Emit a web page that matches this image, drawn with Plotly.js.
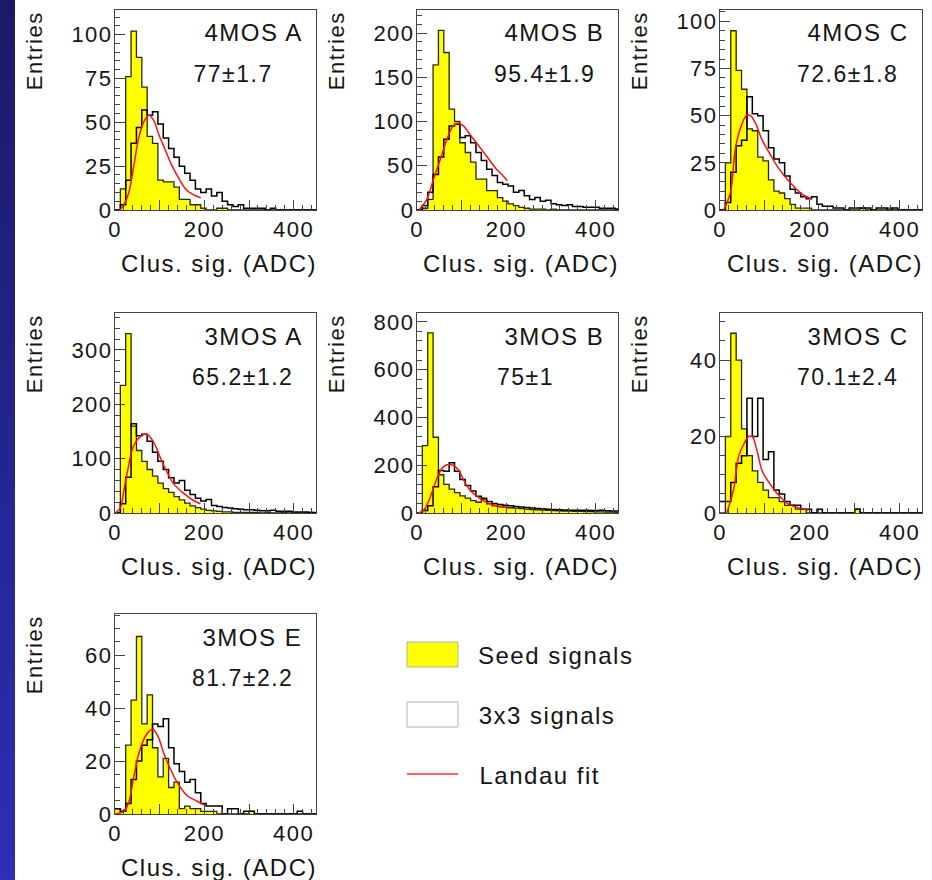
<!DOCTYPE html>
<html><head><meta charset="utf-8">
<script src="https://cdn.plot.ly/plotly-3.0.1.min.js"></script>
<style>
html,body{margin:0;padding:0;background:#fff;overflow:hidden;}
#strip{position:absolute;left:0;top:0;width:15px;height:880px;background:linear-gradient(#1a1a68,#2e2eb6);}
#chart{position:absolute;left:0;top:0;width:932px;height:880px;}
#chart text{letter-spacing:1.5px;}
</style></head>
<body><div id="strip"></div><div id="chart"></div>
<script>
// ---- data ----
const binStarts = [0,12,24,36,48,60,72,84,96,108,120,132,144,156,168,180,192,204,216,228,240,252,264,276,288,300,312,324,336,348,360,372,384,396,408,420,432,444];
const BIN_WIDTH = 12;

const panelNames = ["4MOS A","4MOS B","4MOS C","3MOS A","3MOS B","3MOS C","3MOS E"];
const mpvTexts   = ["77\u00b11.7","95.4\u00b11.9","72.6\u00b11.8","65.2\u00b11.2","75\u00b11","70.1\u00b12.4","81.7\u00b12.2"];

const seed_4MOS_A = [0,12,76,102,87,70,42,38,17,16,16,13,6,6,3,3,1,0,0,1,1,0,0,0,0,0,0,0,0,0,0,0,0,0,0,0,0,0];
const clus_4MOS_A = [0,3,17,38,47,57,54,56,49,41,35,30,25,21,17,12,10,12,8,10,5,3,2,3,1,1,1,1,0,1,0,0,0,0,0,0,0,0];
const fitX_4MOS_A = [10,20,31,42,53,64,76,87,98,113,128,143,158,173,192];
const fitY_4MOS_A = [0,3,10,25,41,50,54,51,43,34,25,18,12,9,7];

const seed_4MOS_B = [0,2,12,164,203,178,114,100,76,65,54,35,35,22,22,14,10,7,5,3,2,1,1,1,0,1,0,0,0,0,0,0,0,0,0,0,0,0];
const clus_4MOS_B = [0,5,20,40,60,80,95,97,82,84,76,65,56,46,39,31,29,27,20,22,16,12,14,10,11,7,6,5,6,4,4,3,3,3,2,2,2,1];
const fitX_4MOS_B = [4,22,37,52,67,81,93,104,119,133,148,163,178,190,202];
const fitY_4MOS_B = [0,12,35,57,80,95,98,95,85,76,66,56,46,40,33];

const seed_4MOS_C = [0,25,95,74,64,43,42,28,26,16,10,9,6,3,1,1,1,0,0,0,0,0,0,0,0,0,1,0,0,0,0,1,0,0,0,0,0,0];
const clus_4MOS_C = [0,4,20,34,37,60,51,50,42,33,27,25,18,11,9,7,6,7,3,2,2,1,1,0,1,1,1,1,0,1,1,0,1,0,0,0,0,0];
const fitX_4MOS_C = [8,23,34,45,59,68,79,94,113,128,158,185,204];
const fitY_4MOS_C = [0,9,32,43,50,50,46,37,29,23,14,8,6];

const seed_3MOS_A = [0,235,330,160,115,95,80,68,55,45,38,30,24,18,13,10,7,5,4,3,2,2,1,1,1,1,1,0,1,0,0,1,0,0,0,0,1,0];
const clus_3MOS_A = [0,17,66,164,142,145,132,112,95,80,65,55,60,42,34,27,22,25,14,12,10,9,8,7,6,6,5,4,4,5,3,3,3,2,2,2,1,1];
const fitX_3MOS_A = [0,11,20,30,41,56,71,86,101,116,131,154,176,191];
const fitY_3MOS_A = [0,8,42,85,122,140,145,131,103,76,54,36,23,17];

const seed_3MOS_B = [0,282,754,317,160,120,100,85,72,62,52,45,58,38,30,26,24,22,20,18,16,14,13,12,11,10,9,8,8,7,7,6,6,5,5,4,4,3];
const clus_3MOS_B = [0,10,30,110,178,175,210,175,140,115,92,70,62,48,40,36,32,30,27,25,23,21,19,18,16,15,14,13,12,12,11,11,10,10,12,9,8,8];
const fitX_3MOS_B = [3,15,26,37,48,59,70,81,93,104,119,142,164,187,205];
const fitY_3MOS_B = [0,11,50,105,160,193,203,200,180,140,95,59,38,28,21];

const seed_3MOS_C = [0,20,47,40,22,15,11,8,6,4,4,3,2,2,1,1,0,0,0,0,0,0,0,0,0,1,0,0,0,0,0,0,0,0,0,0,0,0];
const clus_3MOS_C = [3,3,8,13,15,30,20,30,14,16,6,5,3,2,2,1,1,0,1,0,0,0,0,0,0,1,0,0,0,0,0,0,0,0,0,0,0,0];
const fitX_3MOS_C = [15,30,42,53,64,72,83,94,109,128,151,174,196];
const fitY_3MOS_C = [0,6,15,18,20,20,16,11,8,5,2.4,1.4,0.7];

const seed_3MOS_E = [2,1,26,43,67,34,45,25,14,21,10,12,2,3,2,2,1,1,1,0,0,0,0,0,0,1,0,0,0,0,0,0,0,0,0,0,0,0];
const clus_3MOS_E = [2,1,4,13,20,26,28,34,33,36,25,19,16,12,13,8,4,3,3,3,0,2,2,0,1,1,0,0,0,0,0,0,0,0,1,0,0,0];
const fitX_3MOS_E = [0,19,30,41,52,64,75,85,97,109,124,139,161,184,199];
const fitY_3MOS_E = [0,1,4,13,22,28,31,32,29,23,17,12,7,4.8,3.5];

const legendLabels = ["Seed signals","3x3 signals","Landau fit"];

// ---- layout geometry (pixels) ----
const W = 932, H = 880;
const frames = [
  {l:115,t:10,r:316,b:210},{l:417,t:10,r:618,b:210},{l:720,t:10,r:922,b:210},
  {l:115,t:313,r:316,b:513},{l:417,t:313,r:618,b:513},{l:720,t:313,r:922,b:513},
  {l:115,t:614,r:316,b:814}
];
const yMax   = [114,226,106,368,837,52.3,75.5];
const yDtick = [25,50,25,100,200,20,20];
const yMinor = [5,10,5,20,40,5,5];

const seeds = [seed_4MOS_A,seed_4MOS_B,seed_4MOS_C,seed_3MOS_A,seed_3MOS_B,seed_3MOS_C,seed_3MOS_E];
const clus  = [clus_4MOS_A,clus_4MOS_B,clus_4MOS_C,clus_3MOS_A,clus_3MOS_B,clus_3MOS_C,clus_3MOS_E];
const fitXs = [fitX_4MOS_A,fitX_4MOS_B,fitX_4MOS_C,fitX_3MOS_A,fitX_3MOS_B,fitX_3MOS_C,fitX_3MOS_E];
const fitYs = [fitY_4MOS_A,fitY_4MOS_B,fitY_4MOS_C,fitY_3MOS_A,fitY_3MOS_B,fitY_3MOS_C,fitY_3MOS_E];

const FONT = "Liberation Sans, Arial, Helvetica, sans-serif";
const TXT = '#151515';
const edges = binStarts.concat([binStarts[binStarts.length-1] + BIN_WIDTH]);
const stepY = v => v.concat([v[v.length-1]]);

const traces = [];
const layout = {
  width: W, height: H, margin:{l:0,r:0,t:0,b:0},
  paper_bgcolor:'rgba(0,0,0,0)', plot_bgcolor:'#ffffff',
  showlegend:false, hovermode:false,
  annotations:[], shapes:[]
};

frames.forEach((f,i) => {
  const k = i+1;
  const xa = 'x'+(k===1?'':k), ya = 'y'+(k===1?'':k);
  traces.push({x:edges, y:stepY(seeds[i]), xaxis:xa, yaxis:ya, type:'scatter', mode:'lines',
    line:{shape:'hv', color:'#2a2a00', width:1.3}, fill:'tozeroy', fillcolor:'#ffff00'});
  traces.push({x:edges, y:stepY(clus[i]), xaxis:xa, yaxis:ya, type:'scatter', mode:'lines',
    line:{shape:'hv', color:'#000000', width:1.5}});
  traces.push({x:fitXs[i], y:fitYs[i], xaxis:xa, yaxis:ya, type:'scatter', mode:'lines',
    line:{shape:'spline', smoothing:1, color:'#ff1010', width:1.5}});

  const common = {showline:true, mirror:true, linecolor:'#444', linewidth:1, showgrid:false, zeroline:false,
    ticks:'inside', tickcolor:'#444', tickwidth:1, tickfont:{family:FONT, size:22, color:TXT}, fixedrange:true};
  layout['xaxis'+(k===1?'':k)] = Object.assign({}, common, {
    domain:[f.l/W, f.r/W], anchor:ya, range:[0,450],
    tickmode:'array', tickvals:[0,100,200,300,400], ticktext:['0','','200','','400'], ticklen:10,
    minor:{dtick:20, tick0:0, ticks:'inside', ticklen:5, tickcolor:'#444', showgrid:false}
  });
  layout['yaxis'+(k===1?'':k)] = Object.assign({}, common, {
    domain:[1-f.b/H, 1-f.t/H], anchor:xa, range:[0,yMax[i]],
    tickmode:'linear', tick0:0, dtick:yDtick[i], ticklen:10, ticklabelstandoff:-3,
    minor:{dtick:yMinor[i], tick0:0, ticks:'inside', ticklen:5, tickcolor:'#444', showgrid:false}
  });

  const A = layout.annotations;
  A.push({xref:'paper', yref:'paper', x:(f.l-81)/W, y:1-(f.t+5)/H, text:'Entries', textangle:-90,
    xanchor:'center', yanchor:'top', showarrow:false, font:{family:FONT, size:22, color:TXT}});
  A.push({xref:'paper', yref:'paper', x:(f.r-9)/W, y:1-(f.b+53)/H, text:'Clus. sig. (ADC)',
    xanchor:'right', yanchor:'middle', showarrow:false, font:{family:FONT, size:24, color:TXT}});
  A.push({xref:'paper', yref:'paper', x:(f.r-16)/W, y:1-(f.t+23)/H, text:panelNames[i],
    xanchor:'right', yanchor:'middle', showarrow:false, font:{family:FONT, size:24, color:TXT}});
  A.push({xref:'paper', yref:'paper', x:(f.l+81)/W, y:1-(f.t+64)/H, text:mpvTexts[i],
    xanchor:'left', yanchor:'middle', showarrow:false, font:{family:FONT, size:23, color:TXT}});
});

// ---- legend (drawn) ----
const S = layout.shapes;
S.push({type:'rect', xref:'paper', yref:'paper', x0:407/W, x1:458/W, y0:1-667/H, y1:1-642/H,
  fillcolor:'#ffff00', line:{color:'#b0b0b0', width:1}});
S.push({type:'rect', xref:'paper', yref:'paper', x0:407/W, x1:458/W, y0:1-727/H, y1:1-702/H,
  fillcolor:'#ffffff', line:{color:'#b0b0b0', width:1}});
S.push({type:'line', xref:'paper', yref:'paper', x0:407/W, x1:458/W, y0:1-774/H, y1:1-774/H,
  line:{color:'#ff3030', width:1.5}});
[655,715,775].forEach((yy,j) => layout.annotations.push({xref:'paper', yref:'paper', x:485/W, y:1-yy/H,
  text:legendLabels[j], xanchor:'left', yanchor:'middle', showarrow:false, font:{family:FONT, size:24, color:TXT}}));

Plotly.newPlot('chart', traces, layout, {staticPlot:true, displayModeBar:false});
</script>
</body></html>
